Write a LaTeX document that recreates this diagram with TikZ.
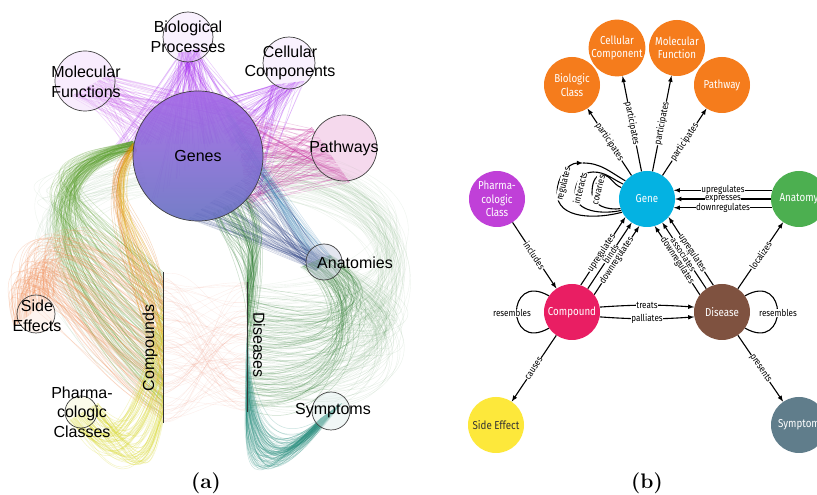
\documentclass[tikz,border=0pt]{standalone}
\usepackage{fontspec}
\usetikzlibrary{positioning, arrows, calc}
\newfontfamily\hivefont{Liberation Sans}
\newfontfamily\mgfont[FakeStretch=0.85]{Fira Sans}
\newcommand{\entfont}{\mgfont\fontsize{11.5}{13.5}\selectfont}
\newcommand{\relfont}{\mgfont\fontsize{9.5}{10}\selectfont}

% hive plot colours
\definecolor{hvPurple}{HTML}{C860EE}
\definecolor{hvViolet}{HTML}{A82EF2}
\definecolor{hvMagenta}{HTML}{C8309E}
\definecolor{hvSteel}{HTML}{3F86B8}
\definecolor{hvSlate}{HTML}{34488A}
\definecolor{hvBlueTop}{HTML}{8A3AE0}
\definecolor{hvBlueBot}{HTML}{3A48B0}
\definecolor{hvGreen}{HTML}{5AA02C}
\definecolor{hvOrange}{HTML}{E06A00}
\definecolor{hvGold}{HTML}{E0A800}
\definecolor{hvSalmon}{HTML}{F38D55}
\definecolor{hvYellow}{HTML}{D8D820}
\definecolor{hvRed}{HTML}{EE6644}
\definecolor{hvDkGreen}{HTML}{2E7D32}
\definecolor{hvLtGreen}{HTML}{5E9E5E}
\definecolor{hvTeal}{HTML}{2A9080}
% metagraph colours
\definecolor{mgOrange}{HTML}{F57C1C}
\definecolor{mgCyan}{HTML}{04B2E2}
\definecolor{mgGreen}{HTML}{4CAF50}
\definecolor{mgPurple}{HTML}{C040D8}
\definecolor{mgPink}{HTML}{E91E63}
\definecolor{mgBrown}{HTML}{7F5240}
\definecolor{mgYellow}{HTML}{FDE83B}
\definecolor{mgGrey}{HTML}{607D8B}

% a bundle of hive edges: style, count, start segment, control offsets, end segment, jitter
\newcommand{\strands}[9]{%
  \foreach \k in {1,...,#2}{%
    \pgfmathsetmacro\sa{rnd}\pgfmathsetmacro\ea{rnd}%
    \pgfmathsetmacro\ja{#9*rand}\pgfmathsetmacro\jb{#9*rand}%
    \pgfmathsetmacro\jc{#9*rand}\pgfmathsetmacro\jd{#9*rand}%
    \coordinate (s) at ($(#3)!\sa!(#4)$);
    \coordinate (e) at ($(#7)!\ea!(#8)$);
    \draw[#1] (s) .. controls ($(s)+(#5)+(\ja,\jb)$) and ($(e)+(#6)+(\jc,\jd)$) .. (e);
  }}

\begin{document}
\begin{tikzpicture}[x=1pt, y=1pt,
  hair/.style={draw=#1, draw opacity=0.25, line width=0.5pt},
  faint/.style={draw=#1, draw opacity=0.1, line width=0.4pt},
  hub/.style={circle, draw=black!75, line width=0.7pt, fill=white, fill opacity=0.45, inner sep=0pt},
  hlab/.style={font=\hivefont\fontsize{16}{19.5}\selectfont, align=center, inner sep=0pt},
  haxis/.style={draw=black!80, line width=1pt},
  ent/.style={circle, minimum size=56pt, inner sep=0pt, text=white, font=\entfont, align=center},
  rel/.style={->, >=latex, line width=1.1pt},
  loopl/.style={line width=1.1pt},
  rlab/.style={font=\relfont, fill=white, inner sep=0.4pt, sloped},
  llab/.style={font=\relfont, fill=white, inner sep=0.4pt}]
  \fill[white] (0,0) rectangle (817,495);
  \useasboundingbox (0,0) rectangle (817,495);
  \pgfmathsetseed{11}

  % (a) hive plot: edge bundles first
  \strands{faint=hvLtGreen}{90}{258,300}{262,345}{180,-10}{190,0}{247,90}{247,210}{25}
  \strands{faint=hvLtGreen}{50}{136,350}{150,300}{-150,-30}{-120,100}{163,223}{163,72}{25}
  \strands{faint=hvRed}{90}{163,72}{163,223}{30,0}{-30,0}{247,83}{247,213}{10}
  \strands{hair=hvPurple}{90}{70,398}{108,420}{0,0}{0,0}{125,345}{258,385}{0}
  \strands{hair=hvViolet}{90}{178,442}{200,446}{0,0}{0,0}{112,350}{262,352}{0}
  \strands{hair=hvViolet}{40}{178,442}{200,446}{0,0}{0,0}{150,290}{250,390}{0}
  \strands{hair=hvViolet}{80}{272,410}{305,414}{0,0}{0,0}{205,395}{262,295}{0}
  \strands{hair=hvMagenta}{120}{312,368}{350,312}{0,0}{0,0}{235,385}{248,285}{0}
  \strands{hair=hvSteel}{40}{222,392}{248,320}{20,-20}{-20,20}{316,224}{332,238}{4}
  \strands{hair=hvSlate}{80}{188,276}{255,325}{30,-10}{-30,10}{316,224}{332,238}{4}
  \strands{hair=hvGreen}{100}{133,354}{137,344}{-120,-30}{-100,90}{163,223}{163,72}{22}
  \strands{hair=hvOrange}{25}{133,352}{137,344}{-45,-50}{-25,80}{163,223}{163,110}{10}
  \strands{hair=hvGold}{25}{133,352}{137,344}{-35,-55}{-20,80}{163,210}{163,90}{10}
  \strands{hair=hvSalmon}{110}{14,168}{55,200}{-10,95}{-90,60}{163,220}{163,75}{25}
  \strands{hair=hvYellow}{80}{68,74}{98,92}{40,-55}{-20,-80}{163,200}{163,72}{12}
  \strands{hair=hvDkGreen}{70}{247,140}{247,213}{10,60}{20,-40}{212,282}{250,300}{10}
  \strands{hair=hvDkGreen}{60}{247,85}{247,213}{100,-20}{60,-40}{300,228}{330,240}{20}
  \strands{faint=hvDkGreen}{70}{247,85}{247,213}{140,-30}{120,-80}{300,228}{330,240}{30}
  \strands{hair=hvTeal}{90}{247,85}{247,160}{0,-100}{-50,-60}{320,76}{342,92}{12}

  % (a) hubs and axes
  \node[hub, minimum size=130pt, top color=hvBlueTop, bottom color=hvBlueBot, fill opacity=0.7] (genes) at (198,339) {};
  \node[hub, minimum size=60pt, fill=hvPurple!25] (molfn) at (85,414) {};
  \node[hub, minimum size=50pt, fill=hvViolet!15] (bioproc) at (188,458) {};
  \node[hub, minimum size=52pt, fill=hvViolet!15] (cellcomp) at (289,432) {};
  \node[hub, minimum size=66pt, fill=hvMagenta!40] (pathw) at (344,347) {};
  \node[hub, minimum size=36pt, fill=hvSlate!30] (anat) at (324,233) {};
  \node[hub, minimum size=38pt, fill=hvSalmon!20] (sidefx) at (36,181) {};
  \node[hub, minimum size=32pt, fill=hvYellow!20] (pharmcl) at (81,83) {};
  \node[hub, minimum size=38pt, fill=hvTeal!15] (sympt) at (331,84) {};
  \coordinate (cmp-top) at (163,223);
  \coordinate (cmp-bot) at (163,72);
  \coordinate (dis-top) at (247,213);
  \coordinate (dis-bot) at (247,83);
  \draw[haxis] (cmp-top) -- (cmp-bot);
  \draw[haxis] (dis-top) -- (dis-bot);

  \node[hlab] (genes-l) at (genes) {Genes};
  \node[hlab] (molfn-l) at (86,413) {Molecular\\Functions};
  \node[hlab] (bioproc-l) at (188,458) {Biological\\Processes};
  \node[hlab] (cellcomp-l) at (290,432) {Cellular\\Components};
  \node[hlab] (pathw-l) at (pathw) {Pathways};
  \node[hlab] (anat-l) at (355,232) {Anatomies};
  \node[hlab] (sidefx-l) at (37,179) {Side\\Effects};
  \node[hlab] (pharmcl-l) at (82,83) {Pharma-\\cologic\\Classes};
  \node[hlab] (sympt-l) at (333,84) {Symptoms};
  \node[hlab, rotate=90] (cmp-l) at (150,147) {Compounds};
  \node[hlab, rotate=-90] (dis-l) at (259,150) {Diseases};

  % (b) metagraph nodes
  \node[ent, fill=mgCyan] (gene) at (647,296) {Gene};
  \node[ent, fill=mgOrange] (bioclass) at (572,410) {Biologic\\Class};
  \node[ent, fill=mgOrange] (cellcomp2) at (617,447) {Cellular\\Component};
  \node[ent, fill=mgOrange] (molfn2) at (677,447) {Molecular\\Function};
  \node[ent, fill=mgOrange] (pathway) at (722,410) {Pathway};
  \node[ent, fill=mgGreen] (anatomy) at (799,296) {Anatomy};
  \node[ent, fill=mgPurple] (pharma) at (497,296) {Pharma-\\cologic\\Class};
  \node[ent, fill=mgPink] (compound) at (572,183) {Compound};
  \node[ent, fill=mgBrown] (disease) at (722,183) {Disease};
  \node[ent, fill=mgYellow, text=black!80] (sidefx2) at (496,70) {Side Effect};
  \node[ent, fill=mgGrey] (symptom) at (799,70) {Symptom};

  % (b) metaedges
  \draw[rel] (gene) -- node[rlab] {participates} (bioclass);
  \draw[rel] (gene) -- node[rlab] {participates} (cellcomp2);
  \draw[rel] (gene) -- node[rlab] {participates} (molfn2);
  \draw[rel] (gene) -- node[rlab] {participates} (pathway);

  \draw[rel] (anatomy.162) -- node[rlab] {upregulates} (gene.18);
  \draw[rel] (anatomy.180) -- node[rlab] {expresses} (gene.0);
  \draw[rel] (anatomy.198) -- node[rlab] {downregulates} (gene.-18);

  \draw[rel] (compound.72) -- node[rlab, pos=0.47] {upregulates} (gene.220);
  \draw[rel] (compound.56) -- node[rlab, pos=0.52] {binds} (gene.237);
  \draw[rel] (compound.38) -- node[rlab, pos=0.5] {downregulates} (gene.254);
  \draw[rel] (disease.108) -- node[rlab, pos=0.47] {upregulates} (gene.320);
  \draw[rel] (disease.124) -- node[rlab, pos=0.52] {associates} (gene.303);
  \draw[rel] (disease.142) -- node[rlab, pos=0.5] {downregulates} (gene.286);

  \draw[rel] (compound.10) to[bend left=4] node[rlab] {treats} (disease.170);
  \draw[rel] (compound.-10) to[bend right=4] node[rlab] {palliates} (disease.190);

  \draw[rel] (pharma) -- node[rlab] {includes} (compound);
  \draw[rel] (compound) -- node[rlab] {causes} (sidefx2);
  \draw[rel] (disease) -- node[rlab] {localizes} (anatomy);
  \draw[rel] (disease) -- node[rlab] {presents} (symptom);

  % self loops
  \coordinate (regL) at (557,302);
  \coordinate (regT) at (583,332);
  \coordinate (intL) at (575,302);
  \coordinate (intT) at (593,323);
  \coordinate (covL) at (592,302);
  \coordinate (covT) at (602,320);
  \draw[loopl, ->, >=latex] (gene.208) to[out=195, in=270] (regL) to[out=90, in=180] (regT);
  \draw[loopl] (regT) to[out=0, in=150] (gene.140);
  \draw[loopl] (gene.204) to[out=192, in=270] (intL) to[out=90, in=180] (intT) to[out=0, in=155] (gene.148);
  \draw[loopl] (gene.200) to[out=188, in=270] (covL) to[out=90, in=180] (covT) to[out=0, in=160] (gene.156);
  \node[llab, rotate=76] (reg-l) at (564,311) {regulates};
  \node[llab, rotate=76] (int-l) at (580,307) {interacts};
  \node[llab, rotate=76] (cov-l) at (598,305) {covaries};

  \draw[loopl] (compound.145) to[out=150, in=210, distance=50pt] (compound.215);
  \draw[loopl] (disease.35) to[out=30, in=-30, distance=50pt] (disease.-35);
  \node[llab] (cres-l) at (512,182) {resembles};
  \node[llab] (dres-l) at (778,182) {resembles};

  % captions
  \node[font=\fontsize{21}{24}\selectfont\bfseries] (cap-a) at (206,12) {(a)};
  \node[font=\fontsize{21}{24}\selectfont\bfseries] (cap-b) at (647,12) {(b)};
\end{tikzpicture}
\end{document}
